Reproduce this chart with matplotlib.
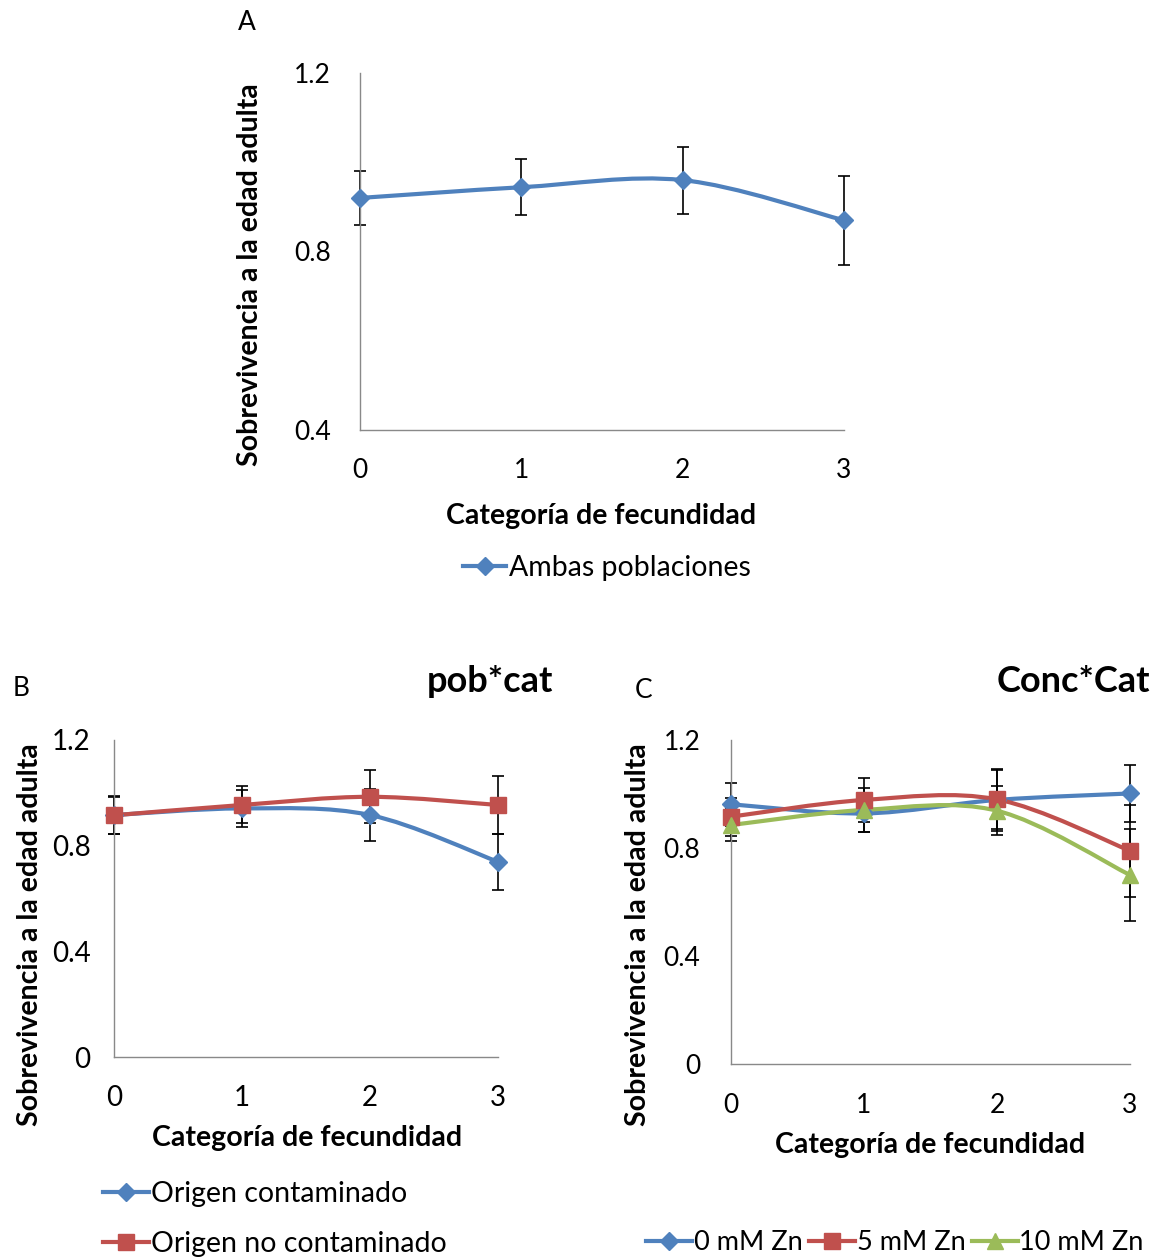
import numpy as np
import matplotlib
matplotlib.use("Agg")
import matplotlib.pyplot as plt
from matplotlib.path import Path
from matplotlib.patches import PathPatch
from matplotlib.lines import Line2D

plt.rcParams['font.family'] = ['Lato', 'DejaVu Sans']

# Data
categories = [0, 1, 2, 3]

# Panel A: both populations
ambas = [0.92, 0.944, 0.96, 0.87]
ambas_err = [0.06, 0.063, 0.075, 0.10]

# Panel B: origin x category
contaminado = [0.916, 0.941, 0.916, 0.739]
contaminado_err = [0.07, 0.07, 0.10, 0.105]
no_contaminado = [0.915, 0.954, 0.985, 0.954]
no_contaminado_err = [0.072, 0.07, 0.10, 0.11]

# Panel C: zinc concentration x category
zn0 = [0.962, 0.928, 0.978, 1.002]
zn0_err = [0.08, 0.07, 0.115, 0.105]
zn5 = [0.916, 0.978, 0.98, 0.79]
zn5_err = [0.07, 0.08, 0.11, 0.17]
zn10 = [0.885, 0.941, 0.938, 0.70]
zn10_err = [0.06, 0.08, 0.09, 0.17]

BLUE = '#4F81BD'
RED = '#C0504D'
GREEN = '#9BBB59'
AXIS = '#898989'

W, H = 1159, 1259
LW = 3.0
LABEL_FS = 20.5


def fx(px):
    return px / W


def fy(py):
    return 1 - py / H


def smooth_path(x, y):
    # Excel-like smoothed line: Catmull-Rom converted to cubic Bezier
    pts = np.column_stack([x, y]).astype(float)
    n = len(pts)
    verts = [pts[0]]
    codes = [Path.MOVETO]
    for i in range(n - 1):
        p0 = pts[max(i - 1, 0)]
        p1 = pts[i]
        p2 = pts[i + 1]
        p3 = pts[min(i + 2, n - 1)]
        c1 = p1 + (p2 - p0) / 6.0
        c2 = p2 - (p3 - p1) / 6.0
        verts += [c1, c2, p2]
        codes += [Path.CURVE4] * 3
    return Path(verts, codes)


def draw_series(ax, y, err, color, marker, ms):
    ax.errorbar(categories, y, yerr=err, fmt='none', ecolor='black',
                elinewidth=1.2, capsize=4.5, capthick=1.2, zorder=2,
                clip_on=False)
    ax.add_patch(PathPatch(smooth_path(categories, y), facecolor='none',
                           edgecolor=color, lw=LW, zorder=3,
                           clip_on=False))
    ax.plot(categories, y, linestyle='none', marker=marker, ms=ms,
            color=color, zorder=4, clip_on=False)


def style_axes(ax, yticks, ylim, ypad, xpad, fs=19):
    ax.set_xlim(0, 3)
    ax.set_ylim(*ylim)
    ax.set_xticks(categories)
    ax.set_yticks(yticks)
    ax.set_yticklabels(['0' if v == 0 else f'{v:.1f}' for v in yticks])
    ax.spines['top'].set_visible(False)
    ax.spines['right'].set_visible(False)
    for s in ('left', 'bottom'):
        ax.spines[s].set_color(AXIS)
        ax.spines[s].set_linewidth(1.0)
    ax.tick_params(axis='both', length=0, labelsize=fs, colors='black')
    ax.tick_params(axis='y', pad=ypad)
    ax.tick_params(axis='x', pad=xpad)


def legend_handle(color, marker, ms, label):
    return Line2D([], [], color=color, lw=LW, marker=marker, ms=ms,
                  label=label)


fig = plt.figure(figsize=(W / 100, H / 100), dpi=100)

# ---------------- Panel A
axA = fig.add_axes([fx(360), fy(430), fx(844 - 360), (430 - 73) / H])
draw_series(axA, ambas, ambas_err, BLUE, 'D', 9)
style_axes(axA, [0.4, 0.8, 1.2], (0.4, 1.2), 21, 20)
fig.text(fx(247), fy(22), 'A', fontsize=19, ha='center', va='center')
fig.text(fx(250), fy(275), 'Sobrevivencia a la edad adulta',
         fontsize=LABEL_FS, fontweight='bold', rotation=90,
         ha='center', va='center')
fig.text(fx(601), fy(516), 'Categoría de fecundidad', fontsize=LABEL_FS,
         fontweight='bold', ha='center', va='center')
fig.legend(handles=[legend_handle(BLUE, 'D', 9, 'Ambas poblaciones')],
           loc='center', bbox_to_anchor=(fx(607), fy(568)), frameon=False,
           fontsize=LABEL_FS, handlelength=1.5, handletextpad=0.1)

# ---------------- Panel B
axB = fig.add_axes([fx(114), fy(1057), fx(498 - 114), (1057 - 740) / H])
draw_series(axB, contaminado, contaminado_err, BLUE, 'D', 9)
draw_series(axB, no_contaminado, no_contaminado_err, RED, 's', 11)
style_axes(axB, [0, 0.4, 0.8, 1.2], (0, 1.2), 17, 20, fs=20)
fig.text(fx(21), fy(689), 'B', fontsize=19, ha='center', va='center')
fig.text(fx(553), fy(682), 'pob*cat', fontsize=26, fontweight='bold',
         ha='right', va='center')
fig.text(fx(30), fy(935), 'Sobrevivencia a la edad adulta',
         fontsize=LABEL_FS, fontweight='bold', rotation=90,
         ha='center', va='center')
fig.text(fx(307), fy(1138), 'Categoría de fecundidad', fontsize=LABEL_FS,
         fontweight='bold', ha='center', va='center')
fig.legend(handles=[legend_handle(BLUE, 'D', 9, 'Origen contaminado'),
                    legend_handle(RED, 's', 11, 'Origen no contaminado')],
           loc='upper left', bbox_to_anchor=(fx(103), fy(1181)),
           frameon=False, fontsize=LABEL_FS, handlelength=1.6,
           handletextpad=0.1, labelspacing=0.85, borderpad=0,
           borderaxespad=0)

# ---------------- Panel C
axC = fig.add_axes([fx(731), fy(1064), fx(1130 - 731), (1064 - 740) / H])
draw_series(axC, zn0, zn0_err, BLUE, 'D', 9)
draw_series(axC, zn5, zn5_err, RED, 's', 11)
draw_series(axC, zn10, zn10_err, GREEN, '^', 11)
style_axes(axC, [0, 0.4, 0.8, 1.2], (0, 1.2), 22, 21)
fig.text(fx(644), fy(690), 'C', fontsize=19, ha='center', va='center')
fig.text(fx(1150), fy(682), 'Conc*Cat', fontsize=26, fontweight='bold',
         ha='right', va='center')
fig.text(fx(638), fy(935), 'Sobrevivencia a la edad adulta',
         fontsize=LABEL_FS, fontweight='bold', rotation=90,
         ha='center', va='center')
fig.text(fx(930), fy(1145), 'Categoría de fecundidad', fontsize=LABEL_FS,
         fontweight='bold', ha='center', va='center')
fig.legend(handles=[legend_handle(BLUE, 'D', 9, '0 mM Zn'),
                    legend_handle(RED, 's', 11, '5 mM Zn'),
                    legend_handle(GREEN, '^', 11, '10 mM Zn')],
           loc='center', bbox_to_anchor=(fx(895), fy(1243)), ncol=3,
           frameon=False, fontsize=19.5, handlelength=1.7,
           handletextpad=0.05, columnspacing=0.25, borderpad=0)

fig.savefig('out.png', dpi=100)
